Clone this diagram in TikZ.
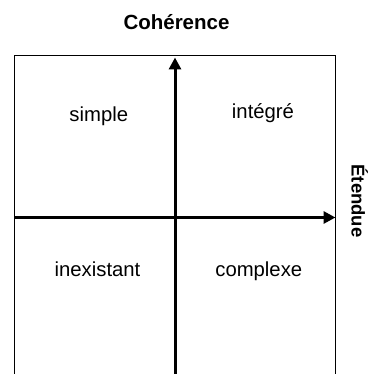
\documentclass[tikz,border=0pt]{standalone}
\usepackage{fontspec}
\setmainfont{Liberation Sans}
\usetikzlibrary{arrows.meta}
\begin{document}
\begin{tikzpicture}[x=1pt,y=-1pt,
  frame/.style={line width=1.5pt, black},
  axis/.style={line width=3pt, black, -{Triangle[length=12pt,width=12pt]}},
  quadlabel/.style={anchor=base, inner sep=0pt, font=\fontsize{20.3}{24}\selectfont},
  axislabel/.style={anchor=base, inner sep=0pt, font=\fontsize{20.5}{24}\selectfont\bfseries}]
  \useasboundingbox (0,0) rectangle (376,374);
  \begin{scope}
    \clip (0,0) rectangle (376,374);
    % open frame (runs past the lower edge)
    \coordinate (tl) at (14.5,55.5);
    \coordinate (tr) at (335.7,55.5);
    \coordinate (bl) at (14.5,380);
    \coordinate (br) at (335.7,380);
    \draw[frame] (bl) -- (tl) -- (tr) -- (br);
    % axes
    \coordinate (vbot) at (175,380);
    \coordinate (vtop) at (175,57.5);
    \coordinate (hleft) at (14.5,217.5);
    \coordinate (hright) at (335.5,217.5);
    \draw[axis] (vbot) -- (vtop);
    \draw[axis] (hleft) -- (hright);
  \end{scope}
  % axis titles
  \node[axislabel] (coh) at (176.5,29.3) {Cohérence};
  \node[axislabel, rotate=-90, font=\fontsize{18.5}{22}\selectfont\bfseries] (eten) at (351.7,201) {Étendue};
  % quadrant labels
  \node[quadlabel] (simple) at (98.8,121.7) {simple};
  \node[quadlabel] (integre) at (263,118.3) {intégré};
  \node[quadlabel] (inex) at (97.5,276.7) {inexistant};
  \node[quadlabel] (compl) at (258.8,276.7) {complexe};
\end{tikzpicture}
\end{document}
